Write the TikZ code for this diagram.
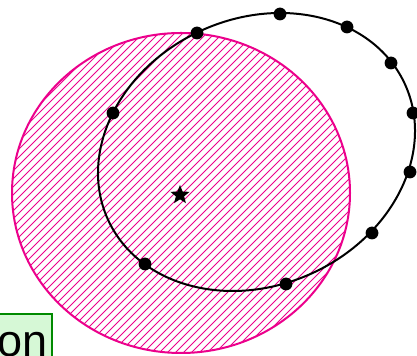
\documentclass[tikz,border=0pt]{standalone}
\usepackage{fontspec}
\setmainfont{Liberation Sans}
\usetikzlibrary{shapes.geometric}
\definecolor{boxgreen}{HTML}{008A00}
\definecolor{boxfill}{HTML}{D6F8D6}
\tikzset{
  dotmark/.style={circle, fill=black, inner sep=0pt, minimum size=6.4pt},
  outline/.style={draw=magenta, line width=1pt},
  hatchline/.style={draw=magenta, line width=0.4pt},
  curve/.style={draw=black, line width=1pt},
  labelbox/.style={draw=boxgreen, fill=boxfill, line width=1.25pt, font=\fontsize{22.5}{27}\selectfont,
    inner xsep=2pt, inner ysep=4pt, text height=17pt, text depth=6pt, anchor=north east},
  starmark/.style={star, star points=5, star point ratio=2.3, fill=black, inner sep=0pt, minimum size=10pt}
}
\begin{document}
\begin{tikzpicture}[x=0.5pt,y=-0.5pt]
\useasboundingbox (0,0) rectangle (417,356);
\clip (0,0) rectangle (417,356);
\fill[white] (0,0) rectangle (417,356);
% magenta hatched region
\begin{scope}
  \clip (181,193) ellipse [x radius=169, y radius=160];
  \foreach \k in {-400,-392,...,420} {
    \draw[hatchline] (\k,360) -- ++(400,-400);
  }
\end{scope}
\path[outline] (181,193) ellipse [x radius=169, y radius=160];
% black fitted ellipse
\path[curve, rotate around={24.5:(256.5,152)}] (256.5,152) ellipse [x radius=163.2, y radius=133.4];
% sample points
\node[dotmark] (p1) at (197,33) {};
\node[dotmark] (p2) at (280,14) {};
\node[dotmark] (p3) at (347,27) {};
\node[dotmark] (p4) at (391,63) {};
\node[dotmark] (p5) at (413,113) {};
\node[dotmark] (p6) at (410,172) {};
\node[dotmark] (p7) at (372,233) {};
\node[dotmark] (p8) at (286,284) {};
\node[dotmark] (p9) at (145,264) {};
\node[dotmark] (p10) at (113,113) {};
% centre
\node[starmark] (c) at (180,195) {};
% label box
\node[labelbox] (lbl) at (53,313) {on};
\end{tikzpicture}
\end{document}
